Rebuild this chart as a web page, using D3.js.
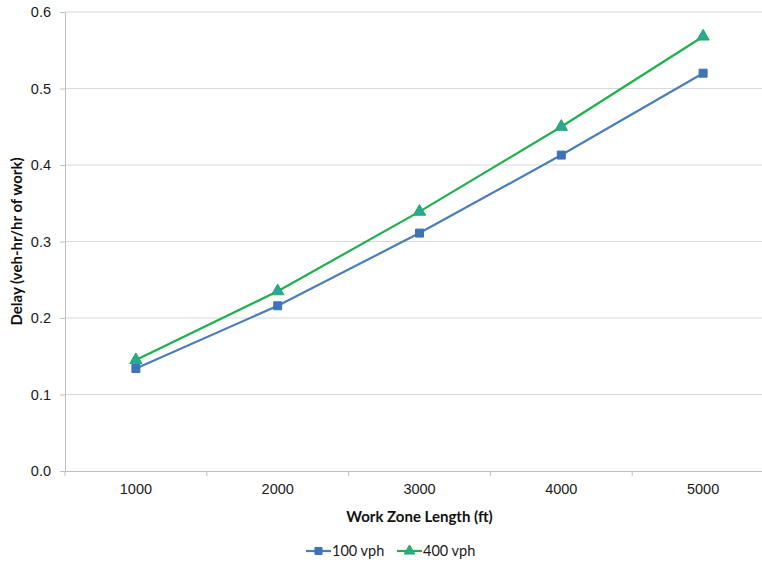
<!DOCTYPE html>
<html>
<head>
<meta charset="utf-8">
<script src="https://cdn.jsdelivr.net/npm/d3@7"></script>
<style>
  body { margin: 0; background: #fff; }
  svg { font-family: Lato, "Open Sans", sans-serif; }
</style>
</head>
<body>
<svg id="chart"></svg>
<script>
const lengths = ["1000", "2000", "3000", "4000", "5000"];
const delay100 = [0.134, 0.216, 0.311, 0.413, 0.520];
const delay400 = [0.145, 0.235, 0.339, 0.450, 0.568];
const yTicks = [0, 0.1, 0.2, 0.3, 0.4, 0.5, 0.6];

const width = 762, height = 562;
const plotLeft = 65, plotRight = 774, plotTop = 12, plotBottom = 471;

const svg = d3.select("#chart").attr("width", width).attr("height", height);

const x = d3.scaleBand().domain(lengths).range([plotLeft, plotRight]);
const y = d3.scaleLinear().domain([0, 0.6]).range([plotBottom, plotTop]);

// gridlines
svg.append("g")
  .selectAll("line")
  .data(yTicks.slice(1))
  .enter()
  .append("line")
  .attr("x1", plotLeft).attr("x2", plotRight)
  .attr("y1", d => y(d)).attr("y2", d => y(d))
  .attr("stroke", "#d9d9d9")
  .attr("stroke-width", 1);

// y axis
const yAxis = svg.append("g")
  .attr("transform", `translate(${plotLeft},0)`)
  .call(d3.axisLeft(y).tickValues(yTicks).tickFormat(d3.format(".1f")).tickSize(5).tickPadding(9));
yAxis.select(".domain").attr("stroke", "#bfbfbf");
yAxis.selectAll(".tick line").attr("stroke", "#bfbfbf");
yAxis.selectAll("text").attr("font-size", 14.5).attr("fill", "#1a1a1a");

// x axis, ticks between categories
const xAxis = svg.append("g")
  .attr("transform", `translate(0,${plotBottom})`)
  .call(d3.axisBottom(x).tickSize(0).tickPadding(13));
xAxis.select(".domain").attr("stroke", "#bfbfbf");
xAxis.selectAll("text").attr("font-size", 14.5).attr("fill", "#1a1a1a");
xAxis.selectAll(".sep")
  .data(lengths)
  .enter()
  .append("line")
  .attr("class", "sep")
  .attr("x1", d => x(d)).attr("x2", d => x(d))
  .attr("y1", 0).attr("y2", 5)
  .attr("stroke", "#bfbfbf");

// axis titles
svg.append("text")
  .attr("x", (plotLeft + plotRight) / 2).attr("y", 522)
  .attr("text-anchor", "middle")
  .attr("font-size", 15).attr("font-weight", "bold").attr("fill", "#111")
  .text("Work Zone Length (ft)");

svg.append("text")
  .attr("transform", `translate(22,${(plotTop + plotBottom) / 2}) rotate(-90)`)
  .attr("text-anchor", "middle")
  .attr("font-size", 15).attr("font-weight", "bold").attr("fill", "#111")
  .text("Delay (veh-hr/hr of work)");

const series = [
  { name: "100 vph", values: delay100, line: "#4a7ebb", marker: "square", fill: "#3f73b8" },
  { name: "400 vph", values: delay400, line: "#1fb04e", marker: "triangle", fill: "#2aa69a" }
];

const cx = d => x(d) + x.bandwidth() / 2;
const line = d3.line().x(d => cx(d[0])).y(d => y(d[1]));

function symbolPath(s, size) {
  return d3.symbol().type(s === "square" ? d3.symbolSquare : d3.symbolTriangle).size(size)();
}

series.forEach(s => {
  const pts = lengths.map((l, i) => [l, s.values[i]]);
  svg.append("path")
    .datum(pts)
    .attr("d", line)
    .attr("fill", "none")
    .attr("stroke", s.line)
    .attr("stroke-width", 2.2);
  svg.append("g")
    .selectAll("path")
    .data(pts)
    .enter()
    .append("path")
    .attr("d", symbolPath(s.marker, s.marker === "square" ? 64 : 66))
    .attr("transform", d => `translate(${cx(d[0])},${y(d[1])})`)
    .attr("fill", s.fill)
    .attr("stroke", s.marker === "square" ? s.fill : s.line)
    .attr("stroke-width", 1);
});

// legend
const legend = svg.append("g").attr("transform", "translate(306,551)");
series.forEach((s, i) => {
  const g = legend.append("g").attr("transform", `translate(${i * 91},0)`);
  g.append("line").attr("x1", 0).attr("x2", 25).attr("y1", 0).attr("y2", 0)
    .attr("stroke", s.line).attr("stroke-width", 2.2);
  g.append("path")
    .attr("d", symbolPath(s.marker, s.marker === "square" ? 50 : 48))
    .attr("transform", "translate(12.5,0)")
    .attr("fill", s.fill)
    .attr("stroke", s.marker === "square" ? s.fill : s.line);
  g.append("text").attr("x", 26).attr("y", 0).attr("dy", "0.35em")
    .attr("font-size", 14.5).attr("fill", "#1a1a1a")
    .text(s.name);
});
</script>
</body>
</html>
